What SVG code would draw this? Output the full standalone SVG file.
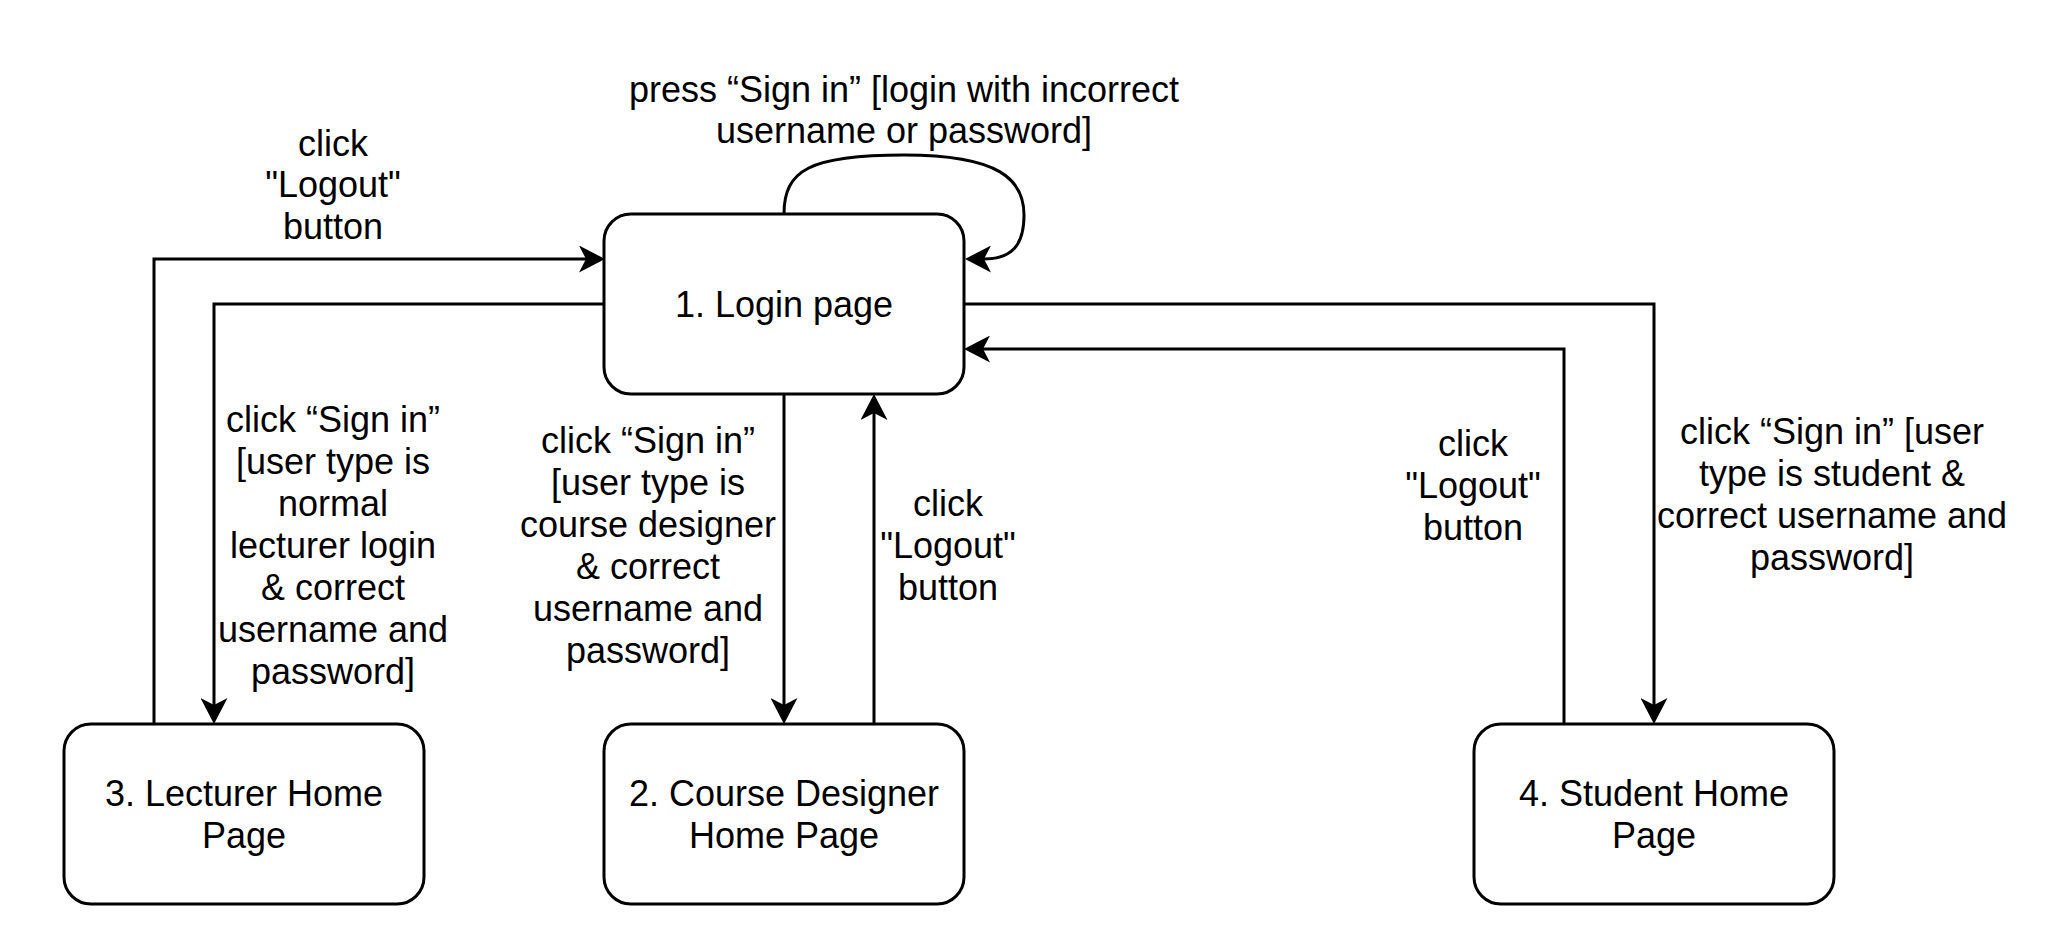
<svg xmlns="http://www.w3.org/2000/svg" width="2046" height="936" viewBox="0 0 2046 936">
<style>
.node rect{fill:#fff;stroke:#000;stroke-width:3}
text{font-family:"Liberation Sans",Arial,sans-serif;font-size:36px;fill:#000;text-anchor:middle}
.edge{fill:none;stroke:#000;stroke-width:3}
</style>
<defs>
<marker id="arr" viewBox="0 0 26 27" markerUnits="userSpaceOnUse" markerWidth="26" markerHeight="27" refX="7" refY="13.5" orient="auto">
<path d="M0,0 L26,13.5 L0,27 L7,13.5 Z" fill="#000"/>
</marker>
</defs>
<rect width="2046" height="936" fill="#fff"/>
<g id="connectors">
<path class="edge" d="M154,724 V259 H586" marker-end="url(#arr)"/>
<path class="edge" d="M604,304 H214 V705" marker-end="url(#arr)"/>
<path class="edge" d="M784,394 V705" marker-end="url(#arr)"/>
<path class="edge" d="M874,724 V413" marker-end="url(#arr)"/>
<path class="edge" d="M964,304 H1654 V705" marker-end="url(#arr)"/>
<path class="edge" d="M1564,724 V349 H983" marker-end="url(#arr)"/>
<path class="edge" d="M784,214 C784,170 810,155 904,155 C1000,155 1024,180 1024,215 C1024,245 1012,259 984,259" marker-end="url(#arr)"/>
<g id="labels">
<text x="904" y="102">press “Sign in” [login with incorrect</text>
<text x="904" y="143">username or password]</text>
<text x="333" y="156">click</text>
<text x="333" y="197">"Logout"</text>
<text x="333" y="239">button</text>
<text x="333" y="432">click “Sign in”</text>
<text x="333" y="474">[user type is</text>
<text x="333" y="516">normal</text>
<text x="333" y="558">lecturer login</text>
<text x="333" y="600">&amp; correct</text>
<text x="333" y="642">username and</text>
<text x="333" y="684">password]</text>
<text x="648" y="453">click “Sign in”</text>
<text x="648" y="495">[user type is</text>
<text x="648" y="537">course designer</text>
<text x="648" y="579">&amp; correct</text>
<text x="648" y="621">username and</text>
<text x="648" y="663">password]</text>
<text x="948" y="516">click</text>
<text x="948" y="558">"Logout"</text>
<text x="948" y="600">button</text>
<text x="1473" y="456">click</text>
<text x="1473" y="498">"Logout"</text>
<text x="1473" y="540">button</text>
<text x="1832" y="444">click “Sign in” [user</text>
<text x="1832" y="486">type is student &amp;</text>
<text x="1832" y="528">correct username and</text>
<text x="1832" y="570">password]</text>
</g>
</g>
<g id="login" class="node">
<rect x="604" y="214" width="360" height="180" rx="27" ry="27"/>
<text x="784" y="317">1. Login page</text>
</g>
<g id="lecturer" class="node">
<rect x="64" y="724" width="360" height="180" rx="27" ry="27"/>
<text x="244" y="806">3. Lecturer Home</text>
<text x="244" y="848">Page</text>
</g>
<g id="designer" class="node">
<rect x="604" y="724" width="360" height="180" rx="27" ry="27"/>
<text x="784" y="806">2. Course Designer</text>
<text x="784" y="848">Home Page</text>
</g>
<g id="student" class="node">
<rect x="1474" y="724" width="360" height="180" rx="27" ry="27"/>
<text x="1654" y="806">4. Student Home</text>
<text x="1654" y="848">Page</text>
</g>
</svg>
